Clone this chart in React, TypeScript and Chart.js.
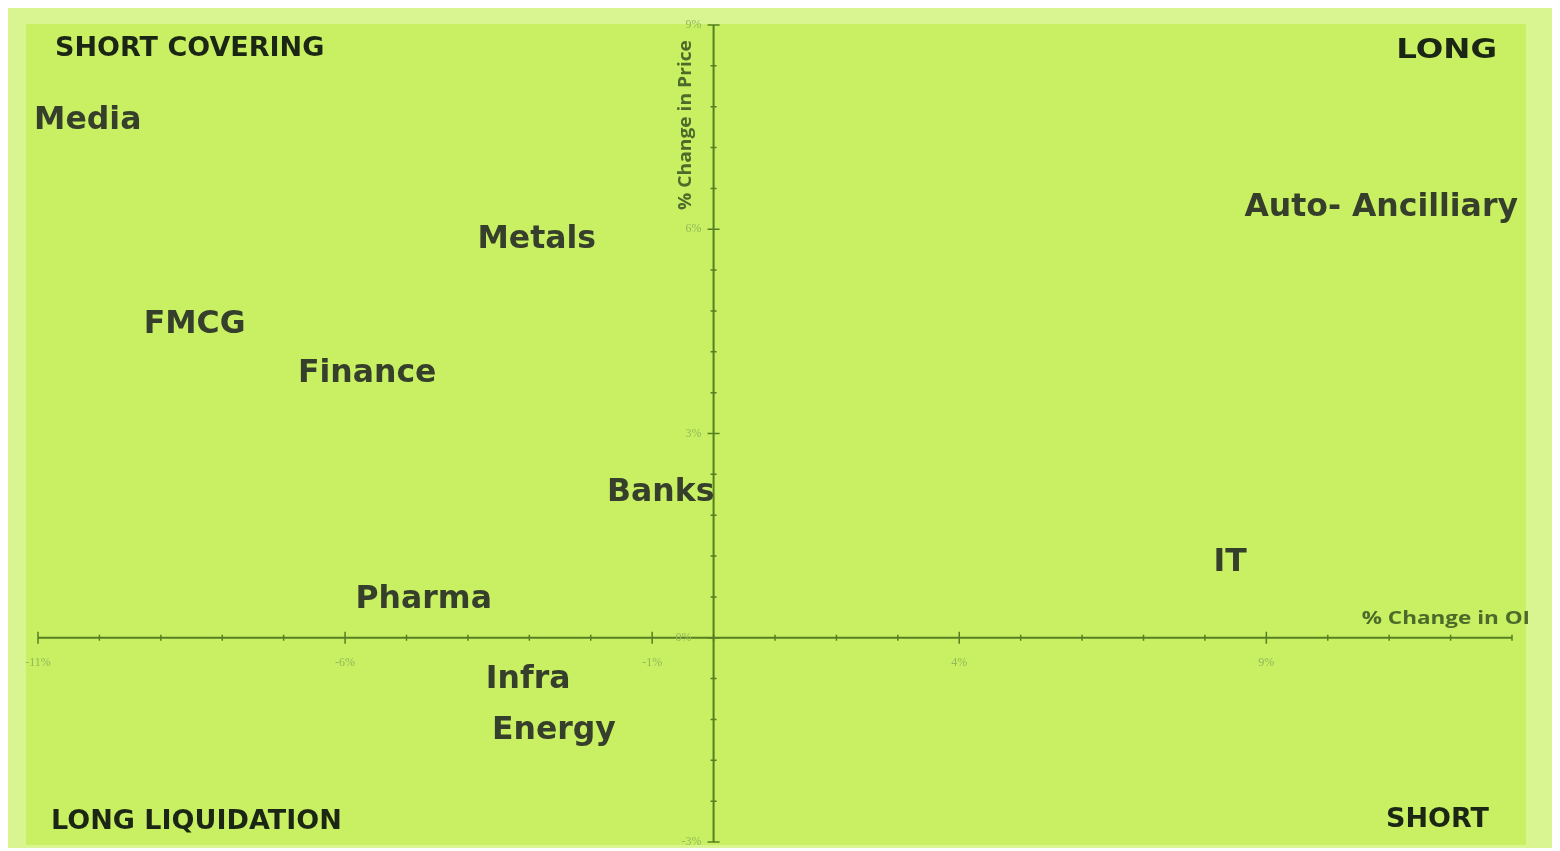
import React, { useEffect, useRef } from "react";
import { Chart, registerables } from "chart.js";

Chart.register(...registerables);

const sectors = ["Media", "Metals", "FMCG", "Finance", "Banks", "Pharma", "Infra", "Energy", "IT", "Auto- Ancilliary"];
const oiChange = [-10.19, -2.88, -8.45, -5.64, -0.86, -4.72, -3.02, -2.6, 8.41, 10.87];
const priceChange = [7.6, 5.84, 4.59, 3.87, 2.13, 0.56, -0.62, -1.37, 1.1, 6.31];

const xTicks = [-11, -6, -1, 4, 9];
const yTicks = [9, 6, 3, 0, -3];
const xMinorStep = 1;
const yMinorStep = 0.6;
const xMin = -11, xMax = 13, yMin = -3, yMax = 9;

const quadrants = ["SHORT COVERING", "LONG", "LONG LIQUIDATION", "SHORT"];

const axisColor = "#557f22";
const tickLabelColor = "#93b85a";

function stretchedText(ctx: any, text: string, x: number, y: number, sx: number, align: string) {
  ctx.save();
  ctx.translate(x, y);
  ctx.scale(sx, 1);
  ctx.textAlign = align;
  ctx.fillText(text, 0, 0);
  ctx.restore();
}

const overlay = {
  id: "overlay",
  beforeDraw(chart: any) {
    const { ctx, width, height } = chart;
    ctx.save();
    ctx.fillStyle = "#d9f592";
    ctx.fillRect(0, 0, width, height);
    ctx.fillStyle = "#c8f062";
    ctx.fillRect(18, 16, width - 44, height - 19);
    ctx.restore();
  },
  afterDatasetsDraw(chart: any) {
    const { ctx } = chart;
    const xs = chart.scales.x;
    const ys = chart.scales.y;
    const x0 = xs.getPixelForValue(0);
    const y0 = ys.getPixelForValue(0);
    ctx.save();
    // axes
    ctx.strokeStyle = axisColor;
    ctx.lineWidth = 2;
    ctx.beginPath();
    ctx.moveTo(xs.getPixelForValue(xMin), y0);
    ctx.lineTo(xs.getPixelForValue(xMax), y0);
    ctx.moveTo(x0, ys.getPixelForValue(yMax));
    ctx.lineTo(x0, ys.getPixelForValue(yMin));
    ctx.stroke();
    // ticks
    ctx.lineWidth = 1.5;
    ctx.beginPath();
    for (let v = xMin; v <= xMax + 1e-6; v += xMinorStep) {
      const p = xs.getPixelForValue(v);
      const major = xTicks.some((t) => Math.abs(t - v) < 1e-6);
      const len = major ? 6 : 3;
      ctx.moveTo(p, y0 - len);
      ctx.lineTo(p, y0 + len);
    }
    for (let i = 0; i <= Math.round((yMax - yMin) / yMinorStep); i++) {
      const v = yMin + i * yMinorStep;
      const p = ys.getPixelForValue(v);
      const major = yTicks.some((t) => Math.abs(t - v) < 1e-6);
      const len = major ? 6 : 3;
      ctx.moveTo(x0 - len, p);
      ctx.lineTo(x0 + len, p);
    }
    ctx.stroke();
    // tick labels
    ctx.fillStyle = tickLabelColor;
    ctx.font = "12px 'Liberation Serif', serif";
    ctx.textAlign = "center";
    ctx.textBaseline = "middle";
    xTicks.forEach((t) => {
      ctx.fillText(t + "%", xs.getPixelForValue(t), y0 + 25);
    });
    ctx.textAlign = "right";
    yTicks.forEach((t) => {
      const yy = ys.getPixelForValue(t);
      const xx = t === 0 ? x0 - 22 : x0 - 12;
      ctx.fillText(t + "%", xx, yy);
    });
    // axis titles
    ctx.fillStyle = "#4e6a2a";
    ctx.textBaseline = "middle";
    ctx.font = "bold 18px 'Open Sans', sans-serif";
    stretchedText(ctx, "% Change in OI", xs.getPixelForValue(xMax) + 18, y0 - 19, 1.25, "right");
    ctx.save();
    ctx.translate(x0 - 27, ys.getPixelForValue(yMax) + 100);
    ctx.rotate(-Math.PI / 2);
    ctx.font = "bold 17px 'Open Sans', sans-serif";
    stretchedText(ctx, "% Change in Price", 0, 0, 1.13, "center");
    ctx.restore();
    // quadrant labels
    ctx.fillStyle = "#1b2614";
    ctx.font = "bold 27px 'DejaVu Sans', sans-serif";
    ctx.textBaseline = "middle";
    ctx.textAlign = "left";
    ctx.fillText(quadrants[0], 47, 41);
    ctx.fillText(quadrants[2], 43, 814);
    ctx.textAlign = "right";
    ctx.fillText(quadrants[3], 1481, 812);
    stretchedText(ctx, quadrants[1], 1489, 43, 1.2, "right");
    // data labels
    const meta = chart.getDatasetMeta(0);
    ctx.fillStyle = "#363f2c";
    ctx.textAlign = "center";
    ctx.font = "bold 31.5px 'DejaVu Sans', sans-serif";
    meta.data.forEach((pt: any, i: number) => {
      ctx.fillText(sectors[i], pt.x, pt.y);
    });
    ctx.restore();
  },
};

export default function App() {
  const ref = useRef<HTMLCanvasElement | null>(null);
  useEffect(() => {
    if (!ref.current) return;
    const chart = new Chart(ref.current, {
      type: "scatter",
      data: {
        datasets: [
          {
            label: "Sectors",
            data: oiChange.map((x, i) => ({ x, y: priceChange[i] })),
            pointRadius: 0,
            backgroundColor: "#4a6fb5",
          },
        ],
      },
      options: {
        animation: false,
        responsive: false,
        layout: { padding: { left: 30, right: 40, top: 17, bottom: 6 } },
        plugins: { legend: { display: false }, tooltip: { enabled: false } },
        scales: {
          x: { type: "linear", min: xMin, max: xMax, display: false },
          y: { type: "linear", min: yMin, max: yMax, display: false },
        },
      },
      plugins: [overlay],
    });
    return () => chart.destroy();
  }, []);
  return (
    <div style={{ width: 1544, height: 840 }}>
      <canvas ref={ref} width={1544} height={840} style={{ display: "block" }} />
    </div>
  );
}
